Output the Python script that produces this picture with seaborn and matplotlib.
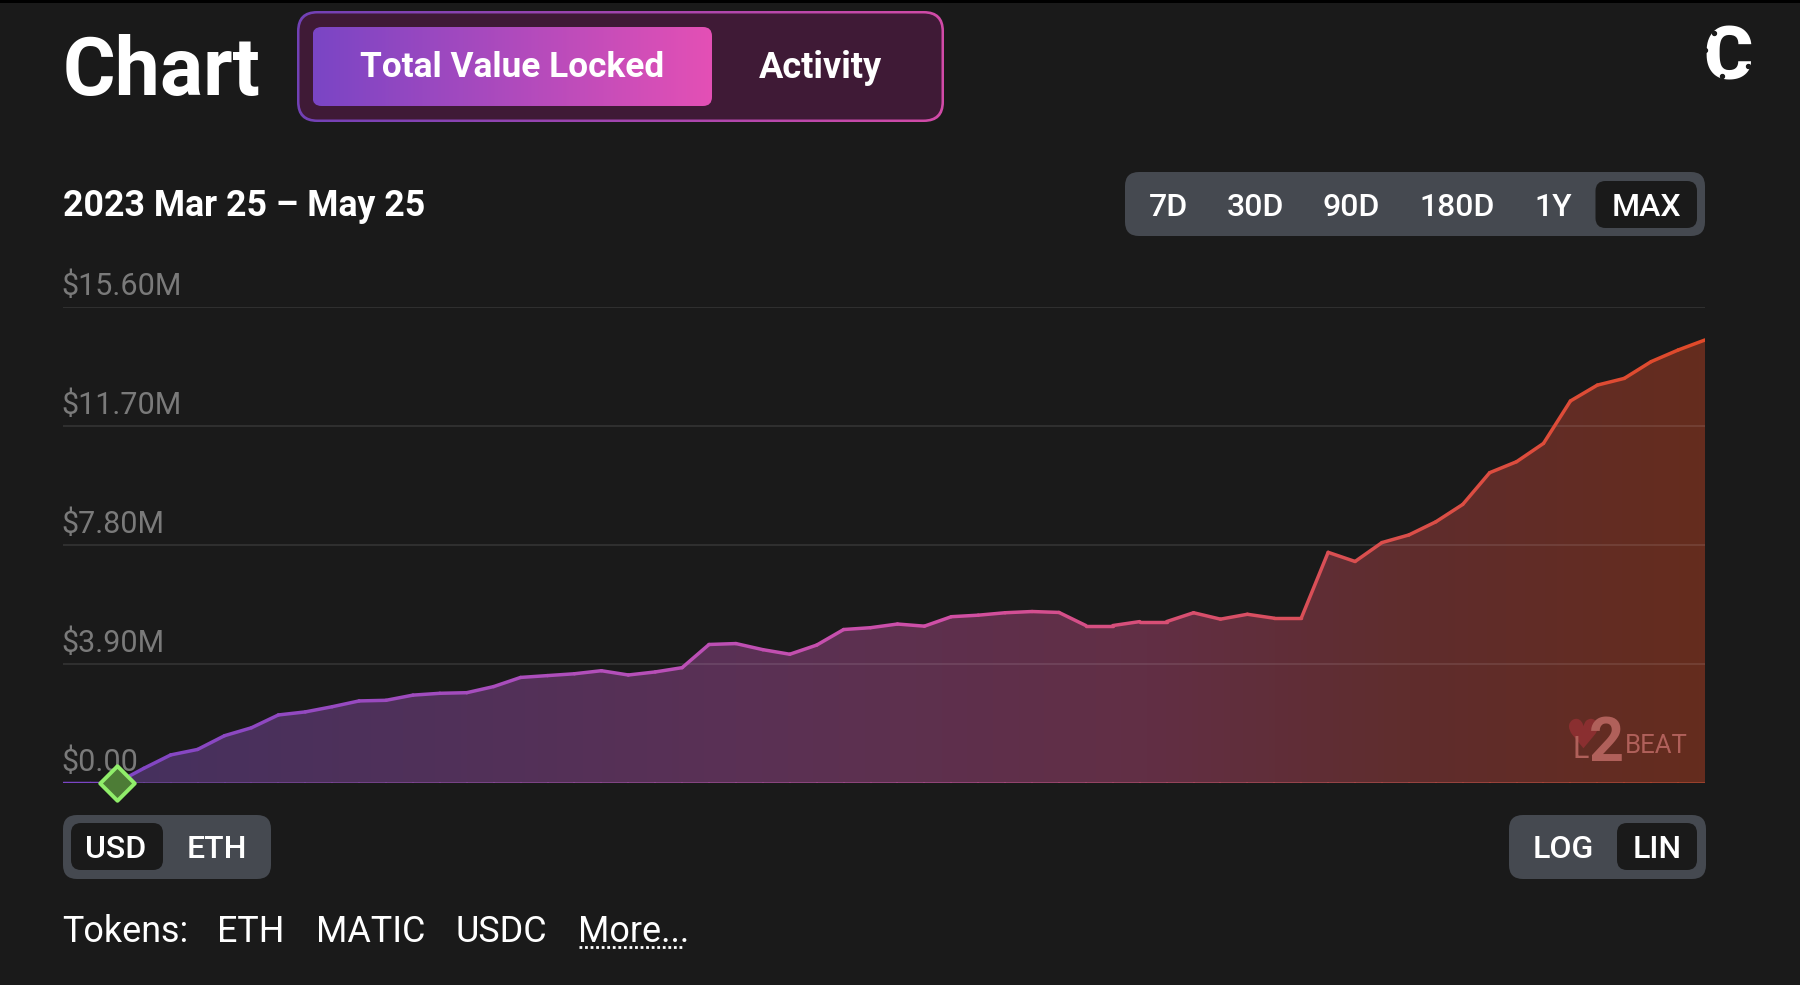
import numpy as np
import pandas as pd
import seaborn as sns
import matplotlib.pyplot as plt
import matplotlib.dates as mdates
from matplotlib.colors import LinearSegmentedColormap
from matplotlib.patches import FancyBboxPatch, Rectangle
from matplotlib.transforms import ScaledTranslation

# valores, en millones de USD, uno por dia
tvl_musd = [0, 0, 0, 0.47, 0.91, 1.09, 1.54, 1.80, 2.22, 2.32,
            2.49, 2.68, 2.70, 2.87, 2.93, 2.95, 3.15, 3.45, 3.51, 3.57,
            3.67, 3.53, 3.63, 3.77, 4.53, 4.56, 4.36, 4.21, 4.51, 5.02,
            5.08, 5.20, 5.13, 5.44, 5.49, 5.57, 5.61, 5.58, 5.15, 5.15,
            5.28, 5.28, 5.57, 5.36, 5.52, 5.39, 5.39, 7.55, 7.25, 7.87,
            8.12, 8.55, 9.12, 10.16, 10.52, 11.12, 12.51, 13.03, 13.25, 13.80,
            14.18, 14.51]
fechas = pd.date_range('2023-03-25', '2023-05-25', freq='D')
y_ticks = [0, 3.9, 7.8, 11.7, 15.6]
y_labels = ['$0.00', '$3.90M', '$7.80M', '$11.70M', '$15.60M']
marker_idx = 2

titulo = 'Chart'
rango_fechas = '2023 Mar 25 – May 25'
tabs = ['Total Value Locked', 'Activity']
periodos = ['7D', '30D', '90D', '180D', '1Y', 'MAX']
monedas = ['USD', 'ETH']
escalas = ['LOG', 'LIN']
tokens = ['Tokens:', 'ETH', 'MATIC', 'USDC', 'More...']

BG = '#1a1a1a'
PILL = '#454950'

sns.set_theme(style='dark', rc={'figure.facecolor': BG, 'axes.facecolor': 'none'})
plt.rcParams['font.family'] = ['Roboto', 'DejaVu Sans']

cmap_linea = LinearSegmentedColormap.from_list('linea', [
    (0, '#7b45c5'), (.33, '#b44fba'), (.54, '#d04fa6'),
    (.66, '#d84f78'), (.79, '#d94f50'), (1, '#e04a2a')])
cmap_relleno = LinearSegmentedColormap.from_list('relleno', [
    (0, '#44305f'), (.41, '#5a3155'), (.66, '#622f45'),
    (.82, '#5f2d2d'), (1, '#652c1e')])
cmap_tab = LinearSegmentedColormap.from_list('tab', ['#7a45c5', '#e450b5'])

fig = plt.figure(figsize=(18, 9.85), dpi=100)

#%% capa de interfaz, en pixeles de la imagen
ui = fig.add_axes([0, 0, 1, 1])
ui.set_xlim(0, 1800)
ui.set_ylim(985, 0)
ui.axis('off')


def caja(x0, y0, x1, y1, radio, color):
    p = FancyBboxPatch((x0 + radio, y0 + radio), x1 - x0 - 2 * radio, y1 - y0 - 2 * radio,
                       boxstyle='round,pad=%f,rounding_size=%f' % (radio, radio),
                       fc=color, ec='none', lw=0)
    ui.add_patch(p)
    return p


def caja_gradiente(x0, y0, x1, y1, radio, z, alpha=1):
    p = caja(x0, y0, x1, y1, radio, 'none')
    p.set_zorder(z)
    im = ui.imshow(np.linspace(0, 1, 256)[None, :], cmap=cmap_tab, aspect='auto',
                   extent=[x0, x1, y1, y0], zorder=z, alpha=alpha)
    im.set_clip_path(p)


def texto(x, y, s, size, weight='bold', color='white', ha='center', **kw):
    ui.text(x, y, s, fontsize=size, fontweight=weight, color=color, ha=ha,
            va='center_baseline', zorder=5, **kw)


ui.add_patch(Rectangle((0, 0), 1800, 3, fc='black', ec='none'))

texto(63, 64, titulo, 58, ha='left')

# selector de arriba
caja_gradiente(297, 11, 944, 122, 20, 1, alpha=.92)
caja(299.5, 13.5, 941.5, 119.5, 18, '#3f1a36').set_zorder(2)
caja_gradiente(312.5, 27, 712, 106, 9, 3)
texto(512, 64, tabs[0], 25.4)
texto(820, 64, tabs[1], 26)
ui.set_xlim(0, 1800)
ui.set_ylim(985, 0)

texto(63, 202, rango_fechas, 25.7, ha='left')

# botones de periodo
caja(1125, 172, 1705, 236, 14, PILL)
caja(1595.5, 181, 1697, 228, 10, BG).set_zorder(2)
for s, x in zip(periodos, [1168, 1255, 1351, 1457, 1553, 1646]):
    texto(x, 204, s, 23, weight='medium')

# USD / ETH y LOG / LIN
caja(63, 815, 271, 879, 14, PILL)
caja(71, 823, 163, 870, 10, BG).set_zorder(2)
for s, x in zip(monedas, [116, 217]):
    texto(x, 847, s, 23, weight='medium')
caja(1509, 815, 1706, 879, 14, PILL)
caja(1617, 823, 1697, 870, 10, BG).set_zorder(2)
for s, x in zip(escalas, [1563, 1657]):
    texto(x, 847, s, 23, weight='medium')

# fila de tokens
for s, x in zip(tokens, [62, 217, 316, 455, 578]):
    texto(x, 928, s, 25.8, weight='normal', ha='left')
ui.plot([579, 683], [947, 947], color='white', lw=2, ls=(0, (1, 1)), zorder=5)

# logo de arriba a la derecha
texto(1728, 51, 'C', 54, weight='black')
ui.scatter([1705, 1714, 1748, 1722], [50, 33, 66, 76], s=8, color=BG, zorder=6)

#%% grafico
ax = fig.add_axes([63 / 1800, 1 - 782.7 / 985, (1705 - 63) / 1800, (782.7 - 306.7) / 985])
x0, x1 = mdates.date2num(fechas[0]), mdates.date2num(fechas[-1])

relleno = ax.fill_between(fechas, tvl_musd, 0, facecolor='none', edgecolor='none')
grad = ax.imshow(np.linspace(0, 1, 512)[None, :], cmap=cmap_relleno, aspect='auto',
                 extent=[x0, x1, 0, 15.6], zorder=1)
grad.set_clip_path(relleno.get_paths()[0], ax.transData)

# un tramo por dia para que la linea cambie de color
tramos = pd.DataFrame({
    'tramo': np.repeat(np.arange(len(fechas) - 1), 2),
    'fecha': [fechas[j] for i in range(len(fechas) - 1) for j in (i, i + 1)],
    'valor': [tvl_musd[j] for i in range(len(fechas) - 1) for j in (i, i + 1)],
})
colores = {i: cmap_linea(i / (len(fechas) - 2)) for i in range(len(fechas) - 1)}
sns.lineplot(data=tramos, x='fecha', y='valor', hue='tramo', palette=colores, estimator=None,
             sort=False, legend=False, lw=2.5, solid_capstyle='round', zorder=3, ax=ax)

# linea de base, mas apagada
base = tramos.assign(valor=0.0)
sns.lineplot(data=base, x='fecha', y='valor', hue='tramo', palette=colores, estimator=None,
             sort=False, legend=False, lw=1.2, alpha=.55, zorder=2.8, ax=ax)

sns.scatterplot(x=[fechas[marker_idx]], y=[tvl_musd[marker_idx]], marker='D', s=310,
                color='#4d7c36', edgecolor='#90ee6a', linewidth=2.8, clip_on=False,
                zorder=6, legend=False, ax=ax)

ax.set_xlim(x0, x1)
ax.set_ylim(0, 15.6)
ax.set_xlabel('')
ax.set_ylabel('')
ax.set_xticks([])
ax.set_yticks(y_ticks, y_labels, ha='left', va='center_baseline', fontsize=22, color='#7a7a7a')
ax.tick_params(axis='y', length=0, pad=1)
sube = ScaledTranslation(0, 23 / 100, fig.dpi_scale_trans)
for lab in ax.get_yticklabels():
    lab.set_transform(lab.get_transform() + sube)
ax.grid(axis='y', color='white', alpha=.12, lw=1.1, zorder=2)
ax.set_axisbelow(False)
sns.despine(ax=ax, left=True, bottom=True)
ui.set_zorder(ax.get_zorder() - 1)

#%% marca de agua, por encima del relleno
marca = fig.add_axes([0, 0, 1, 1], zorder=ax.get_zorder() + 1)
marca.set_xlim(0, 1800)
marca.set_ylim(985, 0)
marca.axis('off')
marca.scatter([1583], [733], s=450, marker='$\u2665$', color='#8a2f30', lw=0)
marca.text(1581, 749, 'L', fontsize=22, color='#b0605a', ha='center', va='center')
marca.text(1606, 744, '2', fontsize=44, fontweight='bold', color='#b0605a', ha='center', va='center')
marca.text(1656, 746, 'BEAT', fontsize=18.5, color='#b0605a', ha='center', va='center')

fig.savefig('out.png', dpi=100, facecolor=BG)
